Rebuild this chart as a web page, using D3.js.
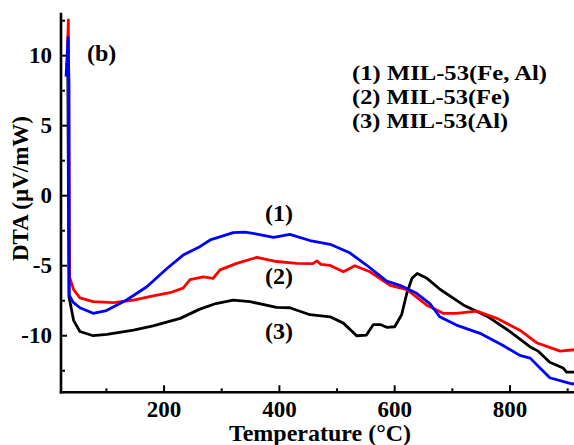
<!DOCTYPE html>
<html>
<head>
<meta charset="utf-8">
<script src="https://cdn.jsdelivr.net/npm/d3@7"></script>
<style>
  body { margin: 0; background: #fff; }
  text { font-family: "Liberation Serif", "Times New Roman", serif; font-weight: bold; fill: #000; }
</style>
</head>
<body>
<svg width="574" height="445"></svg>
<script>
// DTA curves, temperature (C) vs signal (uV/mW)
var feAl = [ // (1) MIL-53(Fe, Al) - blue
  [30, 8.5], [33.5, 11.3], [35, 8], [35.5, -7.1], [42, -7.6], [54, -8.0], [77, -8.4], [100, -8.2],
  [135, -7.45], [170, -6.5], [205, -5.2], [233, -4.24], [262, -3.64], [280, -3.16], [320, -2.64],
  [340, -2.6], [361, -2.74], [390, -2.97], [418, -2.76], [453, -3.2], [488, -3.47], [522, -4.08],
  [551, -4.95], [586, -6.1], [609, -6.4], [638, -6.97], [661, -7.7], [678, -8.64], [707, -9.24],
  [748, -9.83], [788, -10.7], [817, -11.4], [835, -11.6], [852, -12.3], [869, -13.0], [904, -13.4], [911, -13.45]
]
var fe = [ // (2) MIL-53(Fe) - red
  [32.5, 10.6], [34, 12.55], [36, -5.8], [43, -6.7], [54, -7.3], [77, -7.57], [112, -7.64],
  [147, -7.45], [181, -7.16], [210, -6.93], [233, -6.6], [245, -6.0], [268, -5.8], [285, -5.9],
  [297, -5.3], [326, -4.83], [361, -4.4], [395, -4.7], [430, -4.83], [458, -4.85], [465, -4.65],
  [472, -4.9], [488, -4.98], [511, -5.43], [531, -5.0], [557, -5.43], [592, -6.4], [621, -6.7],
  [655, -7.8], [684, -8.4], [707, -8.4], [742, -8.24], [777, -8.76], [817, -9.6], [846, -10.5],
  [887, -11.1], [911, -11.0]
]
var al = [ // (3) MIL-53(Al) - black
  [31, 9.5], [33, 9.0], [35, -7.2], [43, -8.9], [54, -9.7], [77, -10.0], [101, -9.9], [147, -9.6],
  [181, -9.3], [228, -8.76], [262, -8.1], [290, -7.7], [320, -7.45], [349, -7.57], [395, -7.97],
  [418, -8.0], [453, -8.5], [488, -8.65], [511, -9.1], [534, -10.0], [551, -9.95], [563, -9.2],
  [575, -9.2], [586, -9.4], [600, -9.36], [612, -8.5], [621, -6.97], [630, -5.9], [639, -5.55],
  [656, -5.9], [679, -6.7], [719, -7.8], [760, -8.6], [800, -9.7], [835, -10.8], [849, -11.1],
  [869, -11.9], [892, -12.3], [898, -12.6], [911, -12.6]
]
var seriesNames = ['(1) MIL-53(Fe, Al)', '(2) MIL-53(Fe)', '(3) MIL-53(Al)']
var xMajor = [200, 400, 600, 800]
var xMinor = [100, 300, 500, 700, 900]
var yMajor = [-10, -5, 0, 5, 10]
var yMinor = [-12.5, -7.5, -2.5, 2.5, 7.5, 12.5]

var svg = d3.select('svg')
var x = d3.scaleLinear().domain([21.2, 911]).range([61, 574])
var y = d3.scaleLinear().domain([-14.04, 13.07]).range([392.3, 12.7])

var line = d3.line()
  .x(function (d) { return x(d[0]) })
  .y(function (d) { return y(d[1]) })

// curves: black under red under blue
var curves = [al, fe, feAl]
var curveColors = ['#000000', '#ff0000', '#0000ff']
svg.append('g').selectAll('path')
  .data(curves)
  .enter().append('path')
  .attr('d', line)
  .attr('fill', 'none')
  .attr('stroke', function (d, i) { return curveColors[i] })
  .attr('stroke-width', 2.8)
  .attr('stroke-linejoin', 'round')

// axes, ticks point inward
var axisG = svg.append('g')
axisG.append('line')
  .attr('x1', x.range()[0]).attr('x2', x.range()[0])
  .attr('y1', y.range()[1]).attr('y2', y.range()[0] + 1.3)
  .attr('stroke', '#000').attr('stroke-width', 2.6)
axisG.append('line')
  .attr('x1', x.range()[0] - 1.3).attr('x2', x.range()[1])
  .attr('y1', y.range()[0]).attr('y2', y.range()[0])
  .attr('stroke', '#000').attr('stroke-width', 2.6)

axisG.selectAll('.ymaj').data(yMajor).enter().append('line')
  .attr('x1', x.range()[0]).attr('x2', x.range()[0] + 6)
  .attr('y1', y).attr('y2', y)
  .attr('stroke', '#000').attr('stroke-width', 2)
axisG.selectAll('.ymin').data(yMinor).enter().append('line')
  .attr('x1', x.range()[0]).attr('x2', x.range()[0] + 4)
  .attr('y1', y).attr('y2', y)
  .attr('stroke', '#000').attr('stroke-width', 2)
axisG.selectAll('.xmaj').data(xMajor).enter().append('line')
  .attr('x1', x).attr('x2', x)
  .attr('y1', y.range()[0]).attr('y2', y.range()[0] - 7)
  .attr('stroke', '#000').attr('stroke-width', 2)
axisG.selectAll('.xmin').data(xMinor).enter().append('line')
  .attr('x1', x).attr('x2', x)
  .attr('y1', y.range()[0]).attr('y2', y.range()[0] - 4)
  .attr('stroke', '#000').attr('stroke-width', 2)

axisG.selectAll('.ylab').data(yMajor).enter().append('text')
  .attr('x', 52).attr('y', function (d) { return y(d) + 7.5 })
  .attr('text-anchor', 'end').attr('font-size', 23)
  .text(function (d) { return d })
axisG.selectAll('.xlab').data(xMajor).enter().append('text')
  .attr('x', x).attr('y', 416.5)
  .attr('text-anchor', 'middle').attr('font-size', 23)
  .text(function (d) { return d })

svg.append('text')
  .attr('x', 320).attr('y', 441)
  .attr('text-anchor', 'middle').attr('font-size', 24)
  .text('Temperature (\u00B0C)')
svg.append('text')
  .attr('transform', 'translate(28,188.5) rotate(-90)')
  .attr('text-anchor', 'middle').attr('font-size', 23)
  .text('DTA (\u00B5V/mW)')

svg.append('text').attr('x', 87).attr('y', 61).attr('font-size', 24).text('(b)')

// legend text, slightly condensed vertically like the original
var legendWidths = [195, 158, 156]
svg.append('g').selectAll('text')
  .data(seriesNames)
  .enter().append('text')
  .attr('x', 352).attr('y', function (d, i) { return 80 + i * 24 })
  .attr('font-size', 22)
  .attr('textLength', function (d, i) { return legendWidths[i] })
  .attr('lengthAdjust', 'spacingAndGlyphs')
  .text(function (d) { return d })

// curve labels
var curveLabels = ['(1)', '(2)', '(3)']
var labelY = [221, 284, 339]
svg.append('g').selectAll('text')
  .data(curveLabels)
  .enter().append('text')
  .attr('x', 279).attr('y', function (d, i) { return labelY[i] })
  .attr('text-anchor', 'middle').attr('font-size', 24)
  .text(function (d) { return d })
</script>
</body>
</html>
